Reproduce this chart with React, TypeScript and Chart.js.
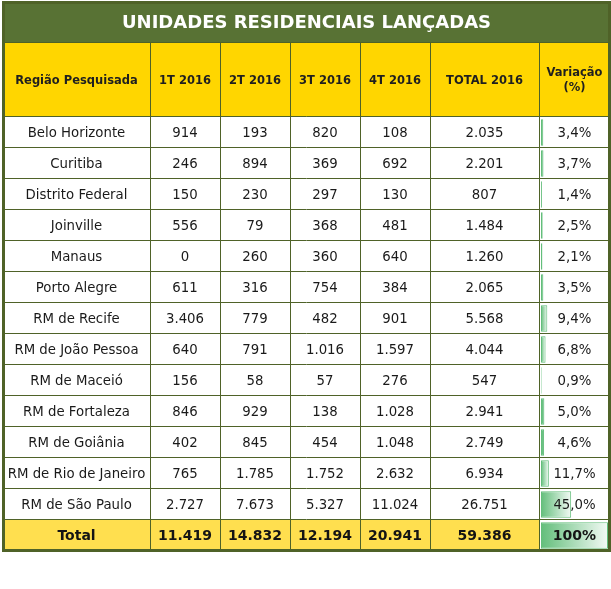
import React, { useEffect, useRef } from 'react';
import { Chart, registerables } from 'chart.js';

Chart.register(...registerables);

const TITLE = 'UNIDADES RESIDENCIAIS LANÇADAS';
const headers = ['Região Pesquisada', '1T 2016', '2T 2016', '3T 2016', '4T 2016', 'TOTAL 2016', 'Variação\n(%)'];
const regions = [
  'Belo Horizonte', 'Curitiba', 'Distrito Federal', 'Joinville', 'Manaus', 'Porto Alegre',
  'RM de Recife', 'RM de João Pessoa', 'RM de Maceió', 'RM de Fortaleza', 'RM de Goiânia',
  'RM de Rio de Janeiro', 'RM de São Paulo',
];
const q1 = [914, 246, 150, 556, 0, 611, 3406, 640, 156, 846, 402, 765, 2727];
const q2 = [193, 894, 230, 79, 260, 316, 779, 791, 58, 929, 845, 1785, 7673];
const q3 = [820, 369, 297, 368, 360, 754, 482, 1016, 57, 138, 454, 1752, 5327];
const q4 = [108, 692, 130, 481, 640, 384, 901, 1597, 276, 1028, 1048, 2632, 11024];
const totals2016 = [2035, 2201, 807, 1484, 1260, 2065, 5568, 4044, 547, 2941, 2749, 6934, 26751];
const variation = [3.4, 3.7, 1.4, 2.5, 2.1, 3.5, 9.4, 6.8, 0.9, 5.0, 4.6, 11.7, 45.0];
const totalLabel = 'Total';
const totalRow = [11419, 14832, 12194, 20941, 59386];
const totalVariation = 100;

const fmtInt = (n: number) => String(n).replace(/\B(?=(\d{3})+(?!\d))/g, '.');
const fmtPct = (n: number) => n.toFixed(1).replace('.', ',') + '%';

const COLS = [3, 150, 220, 290, 360, 430, 539, 610];
const TITLE_TOP = 2;
const HEADER_TOP = 43;
const LINE = '#4f6228';
const TITLE_BG = '#587234';
const HEADER_BG = '#FFD600';
const TOTAL_BG = '#FFDF4F';
const FONT = '"DejaVu Sans", Verdana, sans-serif';

const tablePlugin = {
  id: 'tablePlugin',
  beforeDatasetsDraw(chart: any) {
    const ctx = chart.ctx as CanvasRenderingContext2D;
    const y = chart.scales.y;
    const n = chart.data.labels.length;
    const rowH = (y.bottom - y.top) / n;
    ctx.save();
    ctx.fillStyle = '#ffffff';
    ctx.fillRect(COLS[0], TITLE_TOP, COLS[7] - COLS[0], y.bottom - TITLE_TOP);
    ctx.fillStyle = TITLE_BG;
    ctx.fillRect(COLS[0], TITLE_TOP, COLS[7] - COLS[0], HEADER_TOP - TITLE_TOP);
    ctx.fillStyle = HEADER_BG;
    ctx.fillRect(COLS[0], HEADER_TOP, COLS[7] - COLS[0], y.top - HEADER_TOP);
    const totTop = y.getPixelForValue(n - 1) - rowH / 2;
    ctx.fillStyle = TOTAL_BG;
    ctx.fillRect(COLS[0], totTop, COLS[6] - COLS[0], rowH);
    ctx.restore();
  },
  afterDatasetsDraw(chart: any) {
    const ctx = chart.ctx as CanvasRenderingContext2D;
    const y = chart.scales.y;
    const n = chart.data.labels.length;
    const rowH = (y.bottom - y.top) / n;
    ctx.save();
    ctx.strokeStyle = LINE;
    ctx.lineWidth = 1;
    ctx.beginPath();
    for (let c = 1; c < COLS.length - 1; c++) {
      ctx.moveTo(COLS[c] + 0.5, HEADER_TOP);
      ctx.lineTo(COLS[c] + 0.5, y.bottom);
    }
    const hy = [HEADER_TOP, y.top];
    for (let i = 0; i < n; i++) hy.push(y.getPixelForValue(i) + rowH / 2);
    hy.forEach((v) => {
      const yy = Math.round(v) - 0.5;
      ctx.moveTo(COLS[0], yy);
      ctx.lineTo(COLS[7], yy);
    });
    ctx.stroke();
    ctx.lineWidth = 3;
    ctx.strokeRect(COLS[0] + 0.5, TITLE_TOP + 0.5, COLS[7] - COLS[0] - 1, y.bottom - TITLE_TOP - 1);

    ctx.textAlign = 'center';
    ctx.textBaseline = 'middle';
    ctx.fillStyle = '#ffffff';
    ctx.font = `bold 18px ${FONT}`;
    ctx.fillText(TITLE, (COLS[0] + COLS[7]) / 2, (TITLE_TOP + HEADER_TOP) / 2 + 1);

    ctx.fillStyle = '#1f1f1f';
    ctx.font = `bold 11.5px ${FONT}`;
    const hc = (HEADER_TOP + y.top) / 2 + 1;
    headers.forEach((h, c) => {
      const cx = (COLS[c] + COLS[c + 1]) / 2;
      const lines = h.split('\n');
      lines.forEach((ln, k) => {
        ctx.fillText(ln, cx, hc + (k - (lines.length - 1) / 2) * 15);
      });
    });

    const cx = (c: number) => (COLS[c] + COLS[c + 1]) / 2;
    ctx.fillStyle = '#1a1a1a';
    ctx.font = `13.3px ${FONT}`;
    regions.forEach((r, i) => {
      const cy = y.getPixelForValue(i) + 1;
      ctx.fillText(r, cx(0), cy);
      ctx.fillText(fmtInt(q1[i]), cx(1), cy);
      ctx.fillText(fmtInt(q2[i]), cx(2), cy);
      ctx.fillText(fmtInt(q3[i]), cx(3), cy);
      ctx.fillText(fmtInt(q4[i]), cx(4), cy);
      ctx.fillText(fmtInt(totals2016[i]), cx(5), cy);
      ctx.fillText(fmtPct(variation[i]), cx(6), cy);
    });
    const ty = y.getPixelForValue(n - 1) + 1;
    ctx.font = `bold 14px ${FONT}`;
    ctx.fillStyle = '#141414';
    ctx.fillText(totalLabel, cx(0), ty);
    totalRow.forEach((v, k) => ctx.fillText(fmtInt(v), cx(k + 1), ty));
    ctx.fillText(totalVariation + '%', cx(6), ty);
    ctx.restore();
  },
};

export default function App() {
  const ref = useRef<HTMLCanvasElement | null>(null);
  useEffect(() => {
    if (!ref.current) return;
    const chart = new Chart(ref.current, {
      type: 'bar',
      data: {
        labels: [...regions, totalLabel],
        datasets: [
          {
            data: [...variation, totalVariation],
            backgroundColor: (c: any) => {
              const xs = c.chart.scales?.x;
              if (!xs || c.type !== 'data') return '#63BE7B';
              const v = c.raw as number;
              const x0 = xs.getPixelForValue(0);
              const x1 = xs.getPixelForValue(v);
              if (!isFinite(x0) || !isFinite(x1) || x1 - x0 < 4) return '#6cc184';
              const g = c.chart.ctx.createLinearGradient(x0, 0, x1, 0);
              g.addColorStop(0, '#63BE7B');
              g.addColorStop(1, '#f3faf5');
              return g;
            },
            borderColor: '#63BE7B',
            borderWidth: 1,
            borderSkipped: false,
            barPercentage: 0.86,
            categoryPercentage: 1,
          },
        ],
      },
      options: {
        animation: false,
        responsive: false,
        indexAxis: 'y',
        layout: { padding: { left: 541, right: 3, top: 117, bottom: 38 } },
        scales: {
          x: { type: 'linear', min: 0, max: 100, display: false },
          y: { type: 'category', display: false, offset: true },
        },
        plugins: { legend: { display: false }, tooltip: { enabled: false } },
      },
      plugins: [tablePlugin],
    });
    return () => chart.destroy();
  }, []);
  return (
    <div style={{ position: 'absolute', left: 0, top: 0, width: 611, height: 589, background: '#fff' }}>
      <canvas ref={ref} width={611} height={589} style={{ display: 'block' }} />
    </div>
  );
}
